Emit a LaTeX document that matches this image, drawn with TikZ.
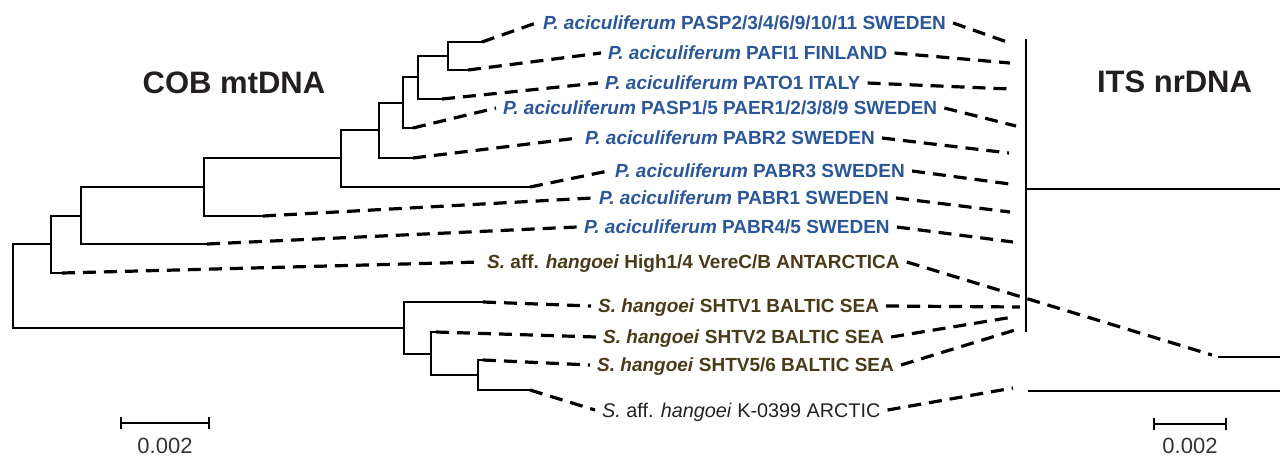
\documentclass[tikz,border=0pt]{standalone}
\usepackage{fontspec}
\setmainfont{Liberation Sans}
\definecolor{pablue}{HTML}{2A579A}
\definecolor{shbrown}{HTML}{4A3A18}
\definecolor{kgray}{HTML}{222222}
\definecolor{titlegray}{HTML}{231F20}
\definecolor{scalegray}{HTML}{333333}
\begin{document}
\begin{tikzpicture}[x=1pt,y=-1pt,
  branch/.style={line width=2.4pt},
  link/.style={line width=3.2pt, dash pattern=on 13pt off 8pt},
  lab/.style={anchor=west, inner xsep=7pt, inner ysep=0pt, text height=13.6pt, text depth=0pt,
              font=\fontsize{19}{21}\selectfont\bfseries},
  pa/.style={lab, text=pablue},
  sh/.style={lab, text=shbrown},
  kl/.style={anchor=west, inner xsep=7pt, inner ysep=0pt, text height=14pt, text depth=0pt,
             font=\fontsize{19.8}{21}\selectfont, text=kgray},
  ttl/.style={font=\fontsize{31}{34}\selectfont\bfseries, text=titlegray},
  sclab/.style={anchor=base, inner sep=0pt, text depth=0pt, font=\fontsize{22}{24}\selectfont, text=scalegray}]

\useasboundingbox (0,0) rectangle (1280,456);

% ---------- titles ----------
\node[ttl] (cob) at (234,83) {COB mtDNA};
\node[ttl] (its) at (1174.5,82) {ITS nrDNA};

% ---------- left tree (COB) ----------
\coordinate (t1) at (482,42);
\coordinate (t2) at (468,70);
\coordinate (t3) at (442,99);
\coordinate (t4) at (413,128);
\coordinate (t5) at (413,158);
\coordinate (t6) at (530,187);
\coordinate (t7) at (263,216);
\coordinate (t8) at (207,244);
\coordinate (t9) at (62,273);
\coordinate (t10) at (483,302);
\coordinate (t11) at (436,332);
\coordinate (t12) at (483,360);
\coordinate (t13) at (530,390);

\coordinate (nA) at (448,56);
\coordinate (nB) at (418,77);
\coordinate (nC) at (403,103);
\coordinate (nD) at (379,130);
\coordinate (nE) at (341,158);
\coordinate (nF) at (204,187);
\coordinate (nG) at (81,216);
\coordinate (nH) at (51,244);
\coordinate (nU) at (478,375);
\coordinate (nT) at (431,354);
\coordinate (nS) at (404,328);
\coordinate (root) at (13,286);

\draw[branch] (t1) -| (nA) |- (t2);
\draw[branch] (nA) -| (nB) |- (t3);
\draw[branch] (nB) -| (nC) |- (t4);
\draw[branch] (nC) -| (nD) |- (t5);
\draw[branch] (nD) -| (nE) |- (t6);
\draw[branch] (nE) -| (nF) |- (t7);
\draw[branch] (nF) -| (nG) |- (t8);
\draw[branch] (nG) -| (nH) |- (t9);
\draw[branch] (t12) -| (nU) |- (t13);
\draw[branch] (t11) -| (nT) |- (nU);
\draw[branch] (t10) -| (nS) |- (nT);
\draw[branch] (nH) -| (root) |- (nS);

% ---------- right tree (ITS) ----------
\coordinate (rv1) at (1026,39);
\coordinate (rv2) at (1026,332);
\coordinate (rn) at (1026,189);
\coordinate (rn1) at (1280,189);
\coordinate (r9a) at (1218,357);
\coordinate (r9b) at (1280,357);
\coordinate (r13a) at (1028,391);
\coordinate (r13b) at (1280,391);
\draw[branch] (rv1) -- (rv2);
\draw[branch] (rn) -- (rn1);
\draw[branch] (r9a) -- (r9b);
\draw[branch] (r13a) -- (r13b);

% right endpoints of connectors
\coordinate (e1) at (1010,43);
\coordinate (e2) at (1010,63);
\coordinate (e3) at (1010,89);
\coordinate (e4) at (1016,126);
\coordinate (e5) at (1009,153);
\coordinate (e6) at (1010,184);
\coordinate (e7) at (1010,212);
\coordinate (e8) at (1013,242);
\coordinate (e9) at (1212,355);
\coordinate (e10) at (1020,307);
\coordinate (e11) at (1013,317);
\coordinate (e12) at (1015,330);
\coordinate (e13) at (1013,388);

% ---------- labels ----------
\node[pa] (l1) at (536,23) {\textit{P. aciculiferum} PASP2/3/4/6/9/10/11 SWEDEN};
\node[pa] (l2) at (601,53) {\textit{P. aciculiferum} PAFI1 FINLAND};
\node[pa] (l3) at (598,83) {\textit{P. aciculiferum} PATO1 ITALY};
\node[pa] (l4) at (496,108) {\textit{P. aciculiferum} PASP1/5 PAER1/2/3/8/9 SWEDEN};
\node[pa] (l5) at (578,138) {\textit{P. aciculiferum} PABR2 SWEDEN};
\node[pa] (l6) at (608,171) {\textit{P. aciculiferum} PABR3 SWEDEN};
\node[pa] (l7) at (592,198) {\textit{P. aciculiferum} PABR1 SWEDEN};
\node[pa] (l8) at (577,227) {\textit{P. aciculiferum} PABR4/5 SWEDEN};
\node[sh] (l9) at (480,262) {\textit{S.} aff. \textit{hangoei} High1/4 VereC/B ANTARCTICA};
\node[sh] (l10) at (591,306) {\textit{S. hangoei} SHTV1 BALTIC SEA};
\node[sh] (l11) at (596,337) {\textit{S. hangoei} SHTV2 BALTIC SEA};
\node[sh] (l12) at (590,365) {\textit{S. hangoei} SHTV5/6 BALTIC SEA};
\node[kl] (l13) at (595,410) {\textit{S.} aff. \textit{hangoei} K-0399 ARCTIC};

% ---------- connectors ----------
\foreach \i in {1,...,13} {
  \draw[link] (t\i) -- (l\i.west);
  \draw[link] (l\i.east) -- (e\i);
}

% ---------- scale bars ----------
\coordinate (sbl1) at (121,423);
\coordinate (sbl2) at (209,423);
\draw[branch] (sbl1) -- (sbl2);
\draw[branch] ([yshift=-6pt]sbl1) -- ([yshift=6pt]sbl1);
\draw[branch] ([yshift=-6pt]sbl2) -- ([yshift=6pt]sbl2);
\node[sclab] (sbtl) at (165,453) {0.002};

\coordinate (sbr1) at (1154,424);
\coordinate (sbr2) at (1226,424);
\draw[branch] (sbr1) -- (sbr2);
\draw[branch] ([yshift=-6pt]sbr1) -- ([yshift=6pt]sbr1);
\draw[branch] ([yshift=-6pt]sbr2) -- ([yshift=6pt]sbr2);
\node[sclab] (sbtr) at (1190,453) {0.002};
\end{tikzpicture}
\end{document}
